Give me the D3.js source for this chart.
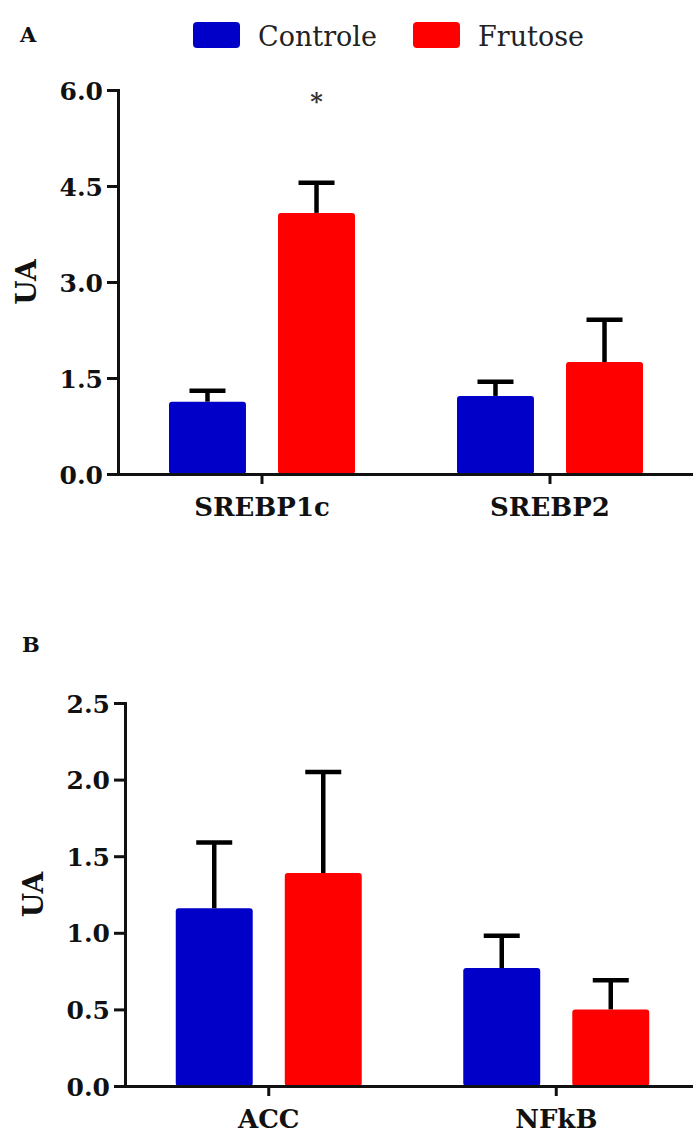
<!DOCTYPE html>
<html>
<head>
<meta charset="utf-8">
<script src="https://cdn.jsdelivr.net/npm/d3@7"></script>
<style>
    body { margin: 0; background: #fff; }
    .axis path, .axis line { stroke: #111; stroke-width: 3; }
    .axis text { font-family: "DejaVu Serif", serif; font-weight: bold; fill: #111; }
    .ytitle { font-family: "DejaVu Serif", serif; font-weight: bold; font-size: 28px; fill: #111; }
    .panel-letter { font-family: "DejaVu Serif", serif; font-weight: bold; font-size: 21px; fill: #111; }
    .legend text { font-family: "DejaVu Serif", serif; font-size: 27px; fill: #222; }
</style>
</head>
<body>
<div id="chart"></div>
<script>

// groups and colours
const groups = ["Controle", "Frutose"];
const colors = ["#0000c8", "#ff0000"];

// panel A
const catsA = ["SREBP1c", "SREBP2"];
const controleA = [1.13, 1.22];
const controleErrA = [0.17, 0.22];
const frutoseA = [4.08, 1.75];
const frutoseErrA = [0.47, 0.66];
const starsA = ["*", ""];
const ticksA = [0, 1.5, 3.0, 4.5, 6.0];

// panel B
const catsB = ["ACC", "NFkB"];
const controleB = [1.16, 0.77];
const controleErrB = [0.43, 0.21];
const frutoseB = [1.39, 0.50];
const frutoseErrB = [0.66, 0.19];
const starsB = ["", ""];
const ticksB = [0, 0.5, 1.0, 1.5, 2.0, 2.5];


class BarPanel {

    constructor(svg, box, cats, means, errs, stars, ticks, letter) {
        this.svg = svg;
        this.box = box;
        this.cats = cats;
        this.means = means;
        this.errs = errs;
        this.stars = stars;
        this.ticks = ticks;
        this.letter = letter;

        this.initVis();
    }

    initVis() {
        let vis = this;
        let b = vis.box;

        vis.g = vis.svg.append("g");

        // Scales
        vis.x = d3.scaleBand()
            .domain(vis.cats)
            .range([b.left, b.right]);

        vis.xInner = d3.scaleBand()
            .domain(groups)
            .range([-93, 93])
            .paddingInner(0.294);

        vis.y = d3.scaleLinear()
            .domain([0, vis.ticks[vis.ticks.length - 1]])
            .range([b.bottom, b.top]);

        // rows: one per bar
        vis.rows = [];
        vis.cats.forEach((c, i) => {
            groups.forEach((gname, j) => {
                vis.rows.push({
                    cat: c, group: gname, color: colors[j],
                    mean: vis.means[j][i], err: vis.errs[j][i],
                    star: j === 1 ? vis.stars[i] : ""
                });
            });
        });

        vis.updateVis();
    }

    updateVis() {
        let vis = this;
        let b = vis.box;
        let cx = d => vis.x(d.cat) + vis.x.bandwidth() / 2 + vis.xInner(d.group) + vis.xInner.bandwidth() / 2;

        // Bars
        vis.g.selectAll("rect.bar").data(vis.rows)
            .enter()
            .append("rect")
            .attr("class", "bar")
            .attr("x", d => vis.x(d.cat) + vis.x.bandwidth() / 2 + vis.xInner(d.group))
            .attr("width", vis.xInner.bandwidth())
            .attr("y", d => vis.y(d.mean))
            .attr("height", d => vis.y(0) - vis.y(d.mean))
            .attr("rx", 3)
            .attr("fill", d => d.color);

        // Error bars (upper only)
        vis.g.selectAll("line.err").data(vis.rows)
            .enter()
            .append("line")
            .attr("class", "err")
            .attr("x1", cx).attr("x2", cx)
            .attr("y1", d => vis.y(d.mean))
            .attr("y2", d => vis.y(d.mean + d.err))
            .attr("stroke", "#000")
            .attr("stroke-width", 4.5);

        vis.g.selectAll("line.cap").data(vis.rows)
            .enter()
            .append("line")
            .attr("class", "cap")
            .attr("x1", d => cx(d) - 18).attr("x2", d => cx(d) + 18)
            .attr("y1", d => vis.y(d.mean + d.err))
            .attr("y2", d => vis.y(d.mean + d.err))
            .attr("stroke", "#000")
            .attr("stroke-width", 4.5);

        // Significance marks
        vis.g.selectAll("text.star").data(vis.rows.filter(d => d.star))
            .enter()
            .append("text")
            .attr("class", "star")
            .attr("x", cx)
            .attr("y", vis.y(vis.ticks[vis.ticks.length - 1]) + 20)
            .attr("text-anchor", "middle")
            .attr("font-family", "DejaVu Serif, serif")
            .attr("font-weight", "bold")
            .attr("font-size", 24)
            .attr("fill", "#333")
            .text(d => d.star);

        // Axes
        vis.yAxis = d3.axisLeft(vis.y)
            .tickValues(vis.ticks)
            .tickFormat(d3.format(".1f"))
            .tickSize(11)
            .tickPadding(4);

        vis.xAxis = d3.axisBottom(vis.x)
            .tickSize(10)
            .tickSizeOuter(0)
            .tickPadding(14);

        vis.g.append("g")
            .attr("class", "x-axis axis")
            .attr("transform", `translate(0, ${b.bottom})`)
            .call(vis.xAxis)
            .call(g => g.selectAll("text").attr("font-size", 26));

        vis.g.append("g")
            .attr("class", "y-axis axis")
            .attr("transform", `translate(${b.left}, 0)`)
            .call(vis.yAxis)
            .call(g => g.selectAll("text").attr("font-size", 25).attr("dy", "0.36em"));

        // Axis title
        vis.g.append("text")
            .attr("class", "ytitle")
            .attr("text-anchor", "middle")
            .attr("transform", `translate(${b.titleX}, ${(b.top + b.bottom) / 2}) rotate(270)`)
            .attr("dy", "0.36em")
            .text("UA");

        // Panel letter
        vis.g.append("text")
            .attr("class", "panel-letter")
            .attr("x", b.letterX)
            .attr("y", b.letterY)
            .text(vis.letter);
    }
}


let svg = d3.select("#chart").append("svg")
    .attr("width", 693)
    .attr("height", 1135);

new BarPanel(svg,
    {left: 118, right: 694, top: 90, bottom: 474, titleX: 26, letterX: 20, letterY: 42},
    catsA, [controleA, frutoseA], [controleErrA, frutoseErrA], starsA, ticksA, "A");

new BarPanel(svg,
    {left: 125, right: 700, top: 703, bottom: 1086, titleX: 33, letterX: 22, letterY: 652},
    catsB, [controleB, frutoseB], [controleErrB, frutoseErrB], starsB, ticksB, "B");

// Legend
let legend = svg.append("g").attr("class", "legend");
let legendX = d3.scaleOrdinal().domain(groups).range([193, 413]);

legend.selectAll("rect").data(groups)
    .enter()
    .append("rect")
    .attr("x", d => legendX(d))
    .attr("y", 22)
    .attr("width", 47)
    .attr("height", 26)
    .attr("rx", 4)
    .attr("fill", (d, i) => colors[i]);

legend.selectAll("text").data(groups)
    .enter()
    .append("text")
    .attr("x", d => legendX(d) + 65)
    .attr("y", 46)
    .text(d => d);

</script>
</body>
</html>
